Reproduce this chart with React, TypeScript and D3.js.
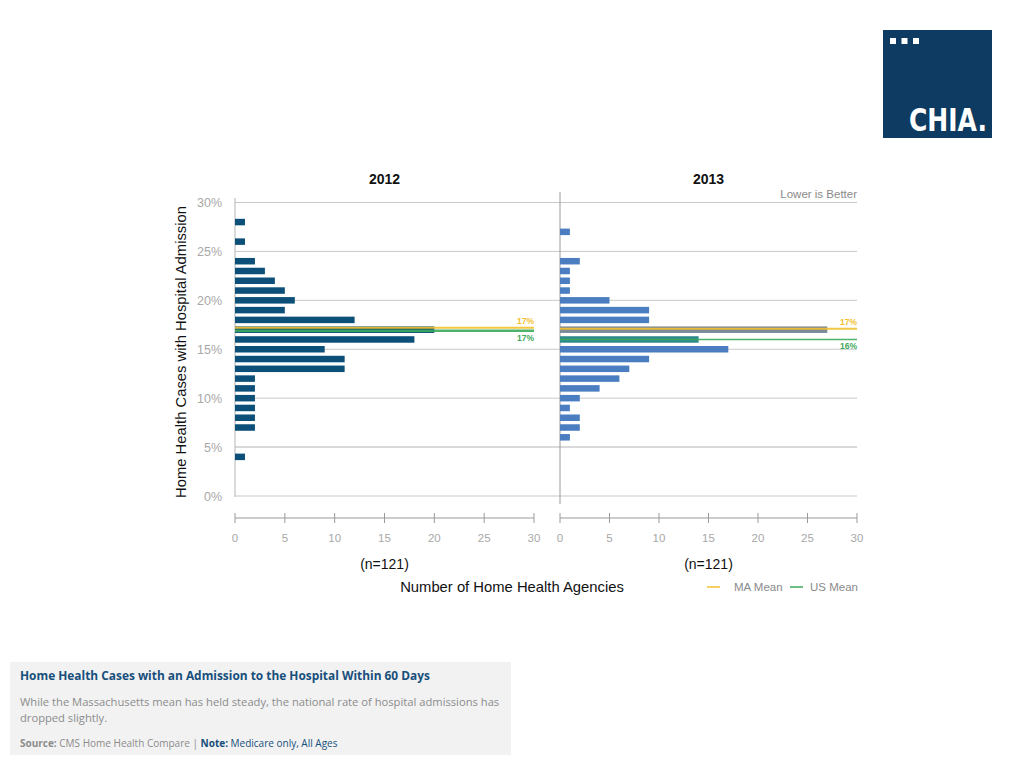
import React from "react";
import * as d3 from "d3";

// ---- data ----
const pctLevels2012 = [28, 26, 24, 23, 22, 21, 20, 19, 18, 17, 16, 15, 14, 13, 12, 11, 10, 9, 8, 7, 4];
const counts2012 = [1, 1, 2, 3, 4, 5, 6, 5, 12, 20, 18, 9, 11, 11, 2, 2, 2, 2, 2, 2, 1];
const pctLevels2013 = [27, 24, 23, 22, 21, 20, 19, 18, 17, 16, 15, 14, 13, 12, 11, 10, 9, 8, 7, 6];
const counts2013 = [1, 2, 1, 1, 1, 5, 9, 9, 27, 14, 17, 9, 7, 6, 4, 2, 1, 2, 2, 1];
const years = ["2012", "2013"];
const maMean = [17.2, 17.1];
const usMean = [16.9, 16.0];
const maLabels = ["17%", "17%"];
const usLabels = ["17%", "16%"];
const nLabels = ["(n=121)", "(n=121)"];
const yTicks = [0, 5, 10, 15, 20, 25, 30];
const xTicks = [0, 5, 10, 15, 20, 25, 30];

const FONT = "'Liberation Sans', Arial, sans-serif";
const FOOT_FONT = "'Open Sans', 'Noto Sans', sans-serif";
const MA_COLOR = "#f3c12f";
const US_COLOR = "#3daa5c";
const GRID = "#c9c9c9";

export default function App() {
  const y = d3.scaleLinear().domain([0, 30]).range([496, 202.5]);
  const panels = [
    { x: d3.scaleLinear().domain([0, 30]).range([235, 534]), levels: pctLevels2012, counts: counts2012, color: "#0c4f78" },
    { x: d3.scaleLinear().domain([0, 30]).range([560, 857]), levels: pctLevels2013, counts: counts2013, color: "#4a7ec0" },
  ];
  const barH = 6.5;

  const highlight = (pi: number, lvl: number, base: string) => {
    if (pi === 1 && lvl === 17) return "#7b8a97";
    if (pi === 1 && lvl === 16) return "#2f8a8c";
    return base;
  };

  return (
    <svg width={1024} height={768} style={{ position: "absolute", left: 0, top: 0 }} fontFamily={FONT}>
      <rect x={0} y={0} width={1024} height={768} fill="#fff" />

      {/* logo */}
      <rect x={883} y={30} width={109} height={108} fill="#0e3b61" />
      {[0, 1, 2].map((i) => (
        <rect key={i} x={890 + i * 11.5} y={38} width={6} height={6} fill="#fff" />
      ))}
      <text x={909} y={131} fill="#fff" fontFamily="'DejaVu Sans Condensed', 'DejaVu Sans', sans-serif" fontWeight="bold" fontSize={32} textLength={78} lengthAdjust="spacingAndGlyphs">
        CHIA.
      </text>

      {/* gridlines */}
      {yTicks.map((t) => (
        <line key={t} x1={235} x2={857} y1={y(t)} y2={y(t)} stroke={t === 5 ? "#d9d9d9" : GRID} strokeWidth={t === 5 ? 2 : 1} />
      ))}
      {/* y tick labels */}
      {yTicks.map((t) => (
        <text key={t} x={222} y={y(t) + 4.5} textAnchor="end" fontSize={12.5} fill="#a8a8a8">
          {t}%
        </text>
      ))}
      {/* vertical axes */}
      <line x1={235} x2={235} y1={198} y2={497} stroke="#b5b5b5" strokeWidth={1} />
      <line x1={560} x2={560} y1={192} y2={504} stroke="#9a9a9a" strokeWidth={1} />

      {panels.map((p, pi) => (
        <g key={pi}>
          {p.levels.map((lvl, i) => (
            <rect
              key={lvl}
              x={p.x(0)}
              y={y(lvl) - barH / 2}
              width={p.x(p.counts[i]) - p.x(0)}
              height={barH}
              fill={highlight(pi, lvl, p.color)}
            />
          ))}
          {/* mean lines */}
          <line x1={p.x(0)} x2={p.x(30)} y1={y(maMean[pi])} y2={y(maMean[pi])} stroke={MA_COLOR} strokeWidth={2} opacity={0.9} />
          <line x1={p.x(0)} x2={p.x(30)} y1={y(usMean[pi])} y2={y(usMean[pi])} stroke={US_COLOR} strokeWidth={pi === 0 ? 2.5 : 1.5} opacity={0.9} />
          <text x={p.x(30)} y={y(maMean[pi]) - 4} textAnchor="end" fontSize={8.5} fontWeight="bold" fill={MA_COLOR}>
            {maLabels[pi]}
          </text>
          <text x={p.x(30)} y={y(usMean[pi]) + (pi === 0 ? 10 : 9.5)} textAnchor="end" fontSize={8.5} fontWeight="bold" fill={US_COLOR}>
            {usLabels[pi]}
          </text>

          {/* x axis */}
          <line x1={p.x(0)} x2={p.x(30)} y1={518} y2={518} stroke="#9a9a9a" strokeWidth={1} />
          {xTicks.map((t) => (
            <g key={t}>
              <line x1={p.x(t)} x2={p.x(t)} y1={513} y2={523} stroke="#9a9a9a" strokeWidth={1} />
              <text x={p.x(t)} y={542} textAnchor="middle" fontSize={11.5} fill="#a8a8a8">
                {t}
              </text>
            </g>
          ))}
          <text x={(p.x(0) + p.x(30)) / 2} y={184} textAnchor="middle" fontSize={14} fontWeight="bold" fill="#111">
            {years[pi]}
          </text>
          <text x={(p.x(0) + p.x(30)) / 2} y={569} textAnchor="middle" fontSize={14} fill="#111">
            {nLabels[pi]}
          </text>
        </g>
      ))}

      <text x={857} y={198} textAnchor="end" fontSize={11.5} fill="#8a8a8a">
        Lower is Better
      </text>

      <text transform="translate(186,352) rotate(-90)" textAnchor="middle" fontSize={14.8} fill="#111">
        Home Health Cases with Hospital Admission
      </text>

      <text x={512} y={592} textAnchor="middle" fontSize={14.8} fill="#111">
        Number of Home Health Agencies
      </text>

      {/* legend */}
      <line x1={707} x2={720} y1={587} y2={587} stroke={MA_COLOR} strokeWidth={1.5} />
      <text x={734} y={591} fontSize={11.5} fill="#8a8a8a">MA Mean</text>
      <line x1={790} x2={803} y1={587} y2={587} stroke={US_COLOR} strokeWidth={1.5} />
      <text x={810} y={591} fontSize={11.5} fill="#8a8a8a">US Mean</text>

      {/* footer */}
      <rect x={10} y={662} width={501} height={93} fill="#f2f2f2" />
      <text x={20} y={680} fontFamily={FOOT_FONT} fontSize={11.9} fontWeight="bold" fill="#174f7c">
        Home Health Cases with an Admission to the Hospital Within 60 Days
      </text>
      <text x={20} y={706} fontFamily={FOOT_FONT} fontSize={11.2} fill="#8c8c8c">
        While the Massachusetts mean has held steady, the national rate of hospital admissions has
      </text>
      <text x={20} y={722} fontFamily={FOOT_FONT} fontSize={11.2} fill="#8c8c8c">
        dropped slightly.
      </text>
      <text x={20} y={747} fontFamily={FOOT_FONT} fontSize={10} fill="#8c8c8c">
        <tspan fontWeight="bold">Source:</tspan>
        <tspan> CMS Home Health Compare | </tspan>
        <tspan fontWeight="bold" fill="#174f7c">Note:</tspan>
        <tspan fill="#174f7c"> Medicare only, All Ages</tspan>
      </text>
    </svg>
  );
}
